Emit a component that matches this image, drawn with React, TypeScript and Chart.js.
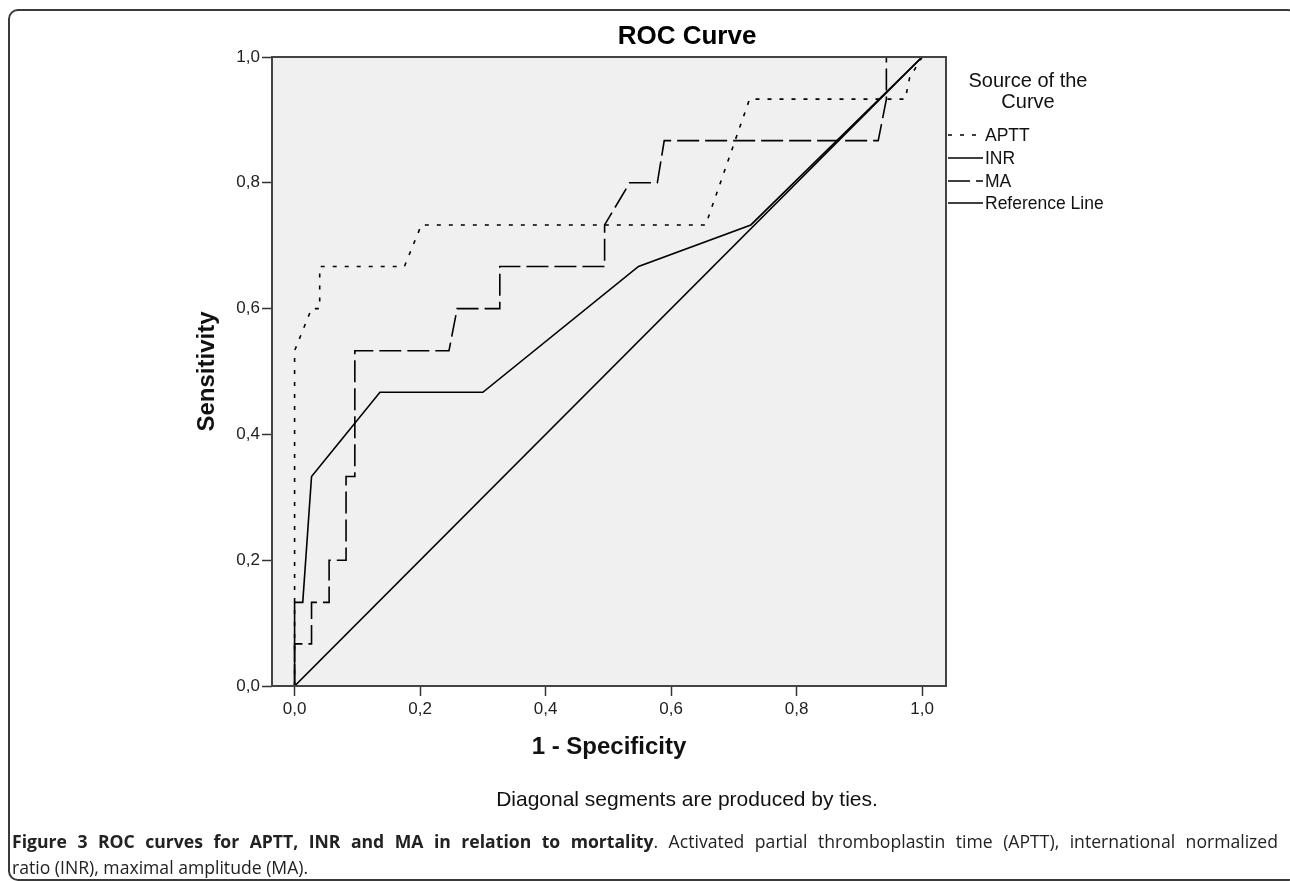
import React, { useEffect, useRef } from "react";
import { Chart, registerables } from "chart.js";

Chart.register(...registerables);

// ---- data ----
const xTickValues = [0, 0.2, 0.4, 0.6, 0.8, 1.0];
const yTickValues = [0, 0.2, 0.4, 0.6, 0.8, 1.0];

const apttX = [0, 0, 0.027, 0.04, 0.04, 0.175, 0.202, 0.655, 0.725, 0.973, 0.98, 1];
const apttY = [0, 0.533, 0.6, 0.6, 0.667, 0.667, 0.733, 0.733, 0.933, 0.933, 0.967, 1];

const inrX = [0, 0, 0.013, 0.027, 0.136, 0.3, 0.548, 0.727, 1];
const inrY = [0, 0.133, 0.133, 0.333, 0.467, 0.467, 0.667, 0.733, 1];

const maX = [0, 0, 0.027, 0.027, 0.055, 0.055, 0.082, 0.082, 0.096, 0.096, 0.246, 0.259, 0.327, 0.327, 0.494, 0.494, 0.534, 0.578, 0.589, 0.93, 0.943, 0.943, 1];
const maY = [0, 0.067, 0.067, 0.133, 0.133, 0.2, 0.2, 0.333, 0.333, 0.533, 0.533, 0.6, 0.6, 0.667, 0.667, 0.733, 0.8, 0.8, 0.867, 0.867, 0.933, 1, 1];

const refX = [0, 1];
const refY = [0, 1];

const seriesNames = ["APTT", "INR", "MA", "Reference Line"];
const legendTitle = ["Source of the", "Curve"];
const chartTitle = "ROC Curve";
const xTitle = "1 - Specificity";
const yTitle = "Sensitivity";
const footnote = "Diagonal segments are produced by ties.";

const FONT = '"Liberation Sans", Arial, sans-serif';
const DOT = [4, 8];
const DASH = [22, 6];

const toPts = (xs: number[], ys: number[]) => xs.map((x, i) => ({ x, y: ys[i] }));
const fmt = (v: number) => v.toFixed(1).replace(".", ",");

const decor = {
  id: "decor",
  beforeDraw(chart: any) {
    const { ctx, chartArea: a } = chart;
    ctx.save();
    ctx.fillStyle = "#f0f0f0";
    ctx.fillRect(a.left, a.top, a.right - a.left, a.bottom - a.top);
    ctx.restore();
  },
  afterDraw(chart: any) {
    const { ctx, chartArea: a } = chart;
    ctx.save();
    // plot frame
    ctx.strokeStyle = "#444";
    ctx.lineWidth = 2;
    ctx.setLineDash([]);
    ctx.strokeRect(a.left, a.top, a.right - a.left, a.bottom - a.top);

    // title
    ctx.fillStyle = "#000";
    ctx.textAlign = "center";
    ctx.textBaseline = "middle";
    ctx.font = `bold 26px ${FONT}`;
    ctx.fillText(chartTitle, 687, 37);

    // legend title
    ctx.font = `20px ${FONT}`;
    ctx.fillStyle = "#111";
    ctx.fillText(legendTitle[0], 1028, 81);
    ctx.fillText(legendTitle[1], 1028, 102);

    // legend items
    const dashes = [DOT, [], DASH, []];
    const rows = [135, 158, 181, 203];
    ctx.textAlign = "left";
    ctx.font = `17.5px ${FONT}`;
    seriesNames.forEach((name, i) => {
      ctx.beginPath();
      ctx.setLineDash(dashes[i]);
      ctx.strokeStyle = "#000";
      ctx.lineWidth = 1.5;
      ctx.moveTo(948, rows[i]);
      ctx.lineTo(983, rows[i]);
      ctx.stroke();
      ctx.setLineDash([]);
      ctx.fillStyle = "#111";
      ctx.fillText(name, 985, rows[i] + 1);
    });

    // footnote
    ctx.textAlign = "center";
    ctx.font = `21px ${FONT}`;
    ctx.fillStyle = "#111";
    ctx.fillText(footnote, 687, 800);
    ctx.restore();
  },
};

export default function App() {
  const ref = useRef<HTMLCanvasElement>(null);

  useEffect(() => {
    const base = { pointRadius: 0, borderColor: "#000", borderWidth: 1.6, tension: 0, fill: false };
    const chart = new Chart(ref.current as HTMLCanvasElement, {
      type: "line",
      data: {
        datasets: [
          { ...base, label: seriesNames[0], data: toPts(apttX, apttY), borderDash: DOT },
          { ...base, label: seriesNames[1], data: toPts(inrX, inrY) },
          { ...base, label: seriesNames[2], data: toPts(maX, maY), borderDash: DASH },
          { ...base, label: seriesNames[3], data: toPts(refX, refY) },
        ] as any,
      },
      options: {
        animation: false,
        responsive: false,
        layout: { padding: { left: 0, top: 57, right: 344, bottom: 60 } },
        plugins: {
          legend: { display: false },
          title: { display: false },
          tooltip: { enabled: false },
        },
        scales: {
          x: {
            type: "linear",
            min: -0.036,
            max: 1.038,
            afterFit: (s: any) => { s.height = 84; },
            afterBuildTicks: (s: any) => { s.ticks = xTickValues.map((v) => ({ value: v })); },
            ticks: { callback: (v: any) => fmt(Number(v)), color: "#222", font: { family: FONT, size: 17 }, padding: 3, maxRotation: 0 },
            grid: { drawOnChartArea: false, drawTicks: true, tickLength: 10, tickColor: "#333", tickWidth: 1.5 },
            border: { display: false },
            title: { display: true, text: xTitle, color: "#111", font: { family: FONT, size: 24, weight: "bold" }, padding: { top: 4, bottom: 8.6 } },
          },
          y: {
            type: "linear",
            min: 0,
            max: 1,
            afterFit: (s: any) => { s.width = 272; },
            afterBuildTicks: (s: any) => { s.ticks = yTickValues.map((v) => ({ value: v })); },
            ticks: { callback: (v: any) => fmt(Number(v)), color: "#222", font: { family: FONT, size: 17 }, padding: 2 },
            grid: { drawOnChartArea: false, drawTicks: true, tickLength: 10, tickColor: "#333", tickWidth: 1.5 },
            border: { display: false },
            title: { display: true, text: yTitle, color: "#111", font: { family: FONT, size: 24, weight: "bold" }, padding: { top: 192.6, bottom: 0 } },
          },
        },
      },
      plugins: [decor],
    });
    return () => chart.destroy();
  }, []);

  return (
    <div style={{ position: "absolute", left: 0, top: 0, width: 1290, height: 881, overflow: "hidden", background: "#fff" }}>
      <div style={{ position: "absolute", left: 8, top: 9, width: 1290, height: 872, border: "2px solid #3a3a3a", borderRadius: 10, boxSizing: "border-box" }} />
      <canvas ref={ref} width={1290} height={830} style={{ position: "absolute", left: 0, top: 0, width: 1290, height: 830 }} />
      <div style={{ position: "absolute", left: 12, top: 828, width: 1266, fontFamily: '"Open Sans", sans-serif', fontSize: 17.6, lineHeight: "26px", color: "#222" }}>
        <div style={{ textAlign: "justify", textAlignLast: "justify", whiteSpace: "nowrap" as any }}>
          <b>Figure 3 ROC curves for APTT, INR and MA in relation to mortality</b>. Activated partial thromboplastin time (APTT), international normalized
        </div>
        <div>ratio (INR), maximal amplitude (MA).</div>
      </div>
    </div>
  );
}
